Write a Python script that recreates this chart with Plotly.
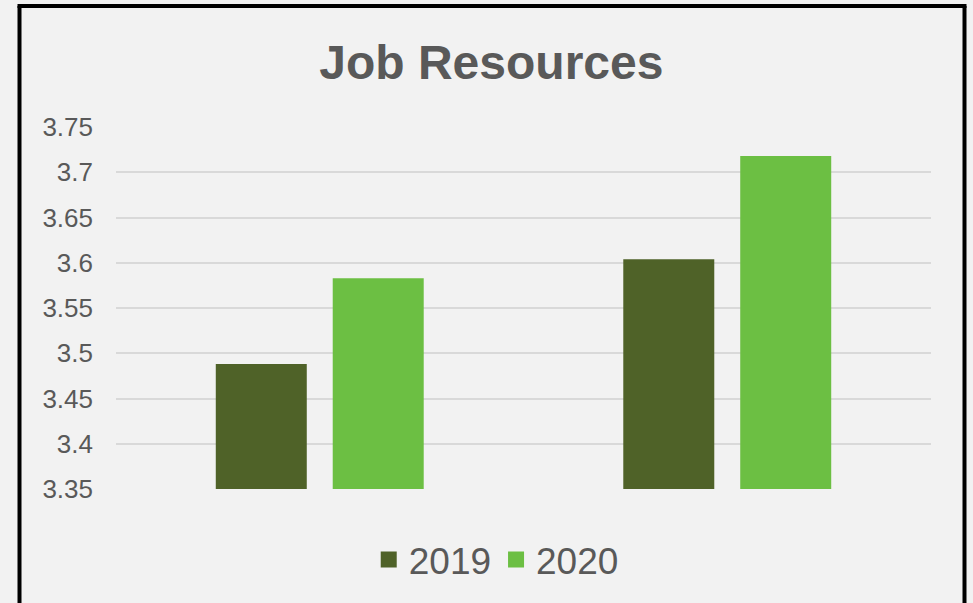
import plotly.graph_objects as go

categories = ["Group 1", "Group 2"]
series_names = ["2019", "2020"]
values_2019 = [3.488, 3.604]
values_2020 = [3.583, 3.718]
colors = ["#4f6228", "#6cbf43"]
y_ticks = [3.35, 3.4, 3.45, 3.5, 3.55, 3.6, 3.65, 3.7, 3.75]
y_tick_labels = ["3.35", "3.4", "3.45", "3.5", "3.55", "3.6", "3.65", "3.7", "3.75"]
y_min = 3.35

fig = go.Figure()
for name, vals, col in zip(series_names, [values_2019, values_2020], colors):
    fig.add_trace(go.Bar(x=categories, y=[v - y_min for v in vals], base=y_min,
                         name=name, marker_color=col, marker_line_width=0,
                         showlegend=False))
    # legend entry with a larger square swatch
    fig.add_trace(go.Scatter(x=[None], y=[None], mode="markers", name=name,
                             marker=dict(symbol="square", size=18, color=col)))

L, R, T, B = 116, 42, 127, 114
W, H = 973, 603
pw, ph = W - L - R, H - T - B

def px(x):
    return (x - L) / pw

def py(y):
    return (H - B - y) / ph

border = dict(color="black", width=4)
fig.update_layout(
    width=W, height=H,
    margin=dict(l=L, r=R, t=T, b=B, autoexpand=False),
    paper_bgcolor="#f2f2f2", plot_bgcolor="#f2f2f2",
    font=dict(family="Liberation Sans, Arial, sans-serif", color="#595959"),
    title=dict(text="<b>Job Resources</b>", x=0.505, xref="container", xanchor="center",
               y=1 - 62 / H, yref="container", yanchor="middle",
               font=dict(size=48, color="#595959")),
    barmode="group", bargap=0.426, bargroupgap=0.222,
    xaxis=dict(showticklabels=False, showgrid=False, zeroline=False, showline=False),
    yaxis=dict(range=[3.35, 3.75], tickvals=y_ticks, ticktext=y_tick_labels,
               showgrid=True, gridcolor="#d9d9d9", gridwidth=1.5, zeroline=False,
               showline=False, tickfont=dict(size=26, color="#595959"), ticks="",
               ticklabelstandoff=22),
    legend=dict(orientation="h", x=0.51, xref="container", xanchor="center",
                y=1 - 560 / H, yref="container", yanchor="middle",
                font=dict(size=37, color="#595959"), bgcolor="rgba(0,0,0,0)",
                itemsizing="trace", tracegroupgap=0),
    shapes=[
        dict(type="line", xref="paper", yref="paper", x0=px(19.5), x1=px(19.5),
             y0=py(6), y1=py(650), line=border),
        dict(type="line", xref="paper", yref="paper", x0=px(17.5), x1=px(966.5),
             y0=py(6), y1=py(6), line=border),
        dict(type="line", xref="paper", yref="paper", x0=px(964.5), x1=px(964.5),
             y0=py(6), y1=py(650), line=border),
    ],
)

fig.write_html("out.html", config={"displayModeBar": False},
               post_script="document.body.style.margin='0';"
                           "document.body.style.background='#f2f2f2';")
